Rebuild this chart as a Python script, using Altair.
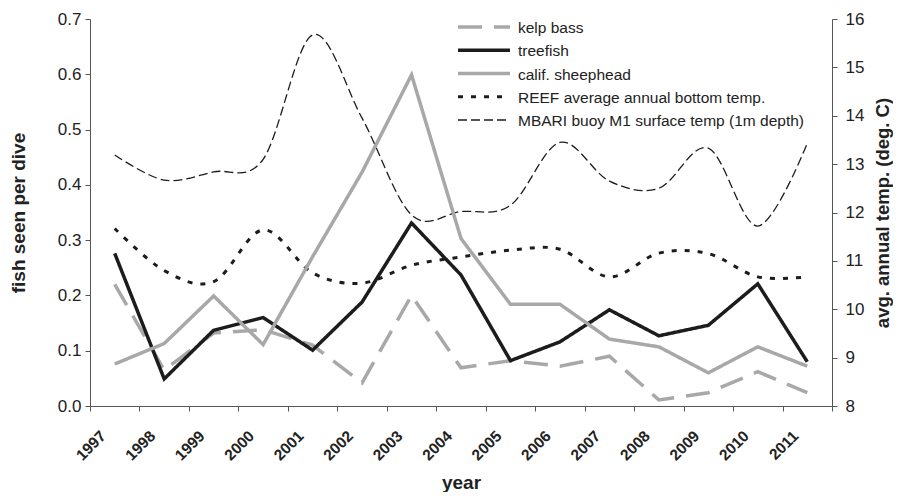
import altair as alt
import pandas as pd

years = list(range(1997, 2012))
kelp_bass = [0.220, 0.065, 0.132, 0.138, 0.110, 0.042, 0.200, 0.069, 0.082, 0.072, 0.090, 0.011, 0.024, 0.062, 0.024]
treefish = [0.276, 0.049, 0.137, 0.160, 0.101, 0.188, 0.331, 0.237, 0.082, 0.116, 0.174, 0.127, 0.146, 0.221, 0.080]
sheephead = [0.076, 0.113, 0.199, 0.111, 0.270, 0.423, 0.599, 0.303, 0.184, 0.184, 0.121, 0.107, 0.060, 0.107, 0.072]
reef_temp = [11.67, 10.80, 10.57, 11.64, 10.75, 10.54, 10.91, 11.08, 11.22, 11.24, 10.67, 11.16, 11.15, 10.67, 10.67]
mbari_temp = [13.19, 12.67, 12.84, 13.10, 15.67, 13.95, 11.95, 12.02, 12.15, 13.45, 12.65, 12.50, 13.33, 11.72, 13.43]

series_names = ["kelp bass", "treefish", "calif. sheephead",
                "REEF average annual bottom temp.",
                "MBARI buoy M1 surface temp (1m depth)"]
series_colors = ["#a8a8a8", "#1c1c1c", "#a8a8a8", "#1c1c1c", "#1c1c1c"]
series_dashes = [[24, 12], [1, 0], [1, 0], [5, 8], [9, 4]]
series_widths = [3.5, 3.5, 3.5, 3.0, 1.3]

fish_rows = []
for name, vals in zip(series_names[:3], [kelp_bass, treefish, sheephead]):
    for y, v in zip(years, vals):
        fish_rows.append({"year": y, "series": name, "value": v})
fish_df = pd.DataFrame(fish_rows)

temp_rows = []
for name, vals in zip(series_names[3:], [reef_temp, mbari_temp]):
    for y, v in zip(years, vals):
        temp_rows.append({"year": y, "series": name, "temp": v})
temp_df = pd.DataFrame(temp_rows)

legend_df = pd.DataFrame({"series": series_names})

FONT = "Liberation Sans"

x_enc = alt.X(
    "year:O",
    scale=alt.Scale(type="band", paddingInner=0, paddingOuter=0),
    axis=alt.Axis(
        title="year", tickBand="extent", labelAngle=-45, labelAlign="right",
        labelBaseline="middle", labelFontWeight="bold", labelFontSize=15.5,
        labelPadding=22, labelOffset=-12, titleFontSize=19, titleFontWeight="bold",
        titlePadding=10, grid=False, tickSize=5,
    ),
)

color_enc = alt.Color("series:N", scale=alt.Scale(domain=series_names, range=series_colors), legend=None)
dash_enc = alt.StrokeDash("series:N", scale=alt.Scale(domain=series_names, range=series_dashes), legend=None)
width_enc = alt.StrokeWidth("series:N", scale=alt.Scale(type="ordinal", domain=series_names, range=series_widths), legend=None)

temp_layer = alt.Chart(temp_df).mark_line(interpolate="cardinal", tension=0).encode(
    x=x_enc,
    y=alt.Y("temp:Q", scale=alt.Scale(domain=[8, 16], nice=False, zero=False),
            axis=alt.Axis(title="avg. annual temp. (deg. C)", orient="right",
                          values=list(range(8, 17)), grid=False, tickSize=5,
                          labelFontSize=17, labelPadding=8, titleFontSize=18.5,
                          titleFontWeight="bold", titleAngle=270, titlePadding=29)),
    color=color_enc, strokeDash=dash_enc, strokeWidth=width_enc,
)

fish_layer = alt.Chart(fish_df).mark_line(interpolate="linear").encode(
    x=x_enc,
    y=alt.Y("value:Q", scale=alt.Scale(domain=[0, 0.7], nice=False),
            axis=alt.Axis(title="fish seen per dive", orient="left",
                          values=[0, 0.1, 0.2, 0.3, 0.4, 0.5, 0.6, 0.7], format=".1f",
                          grid=False, tickSize=5, labelFontSize=17, labelPadding=4,
                          titleFontSize=19, titleFontWeight="bold", titlePadding=29)),
    color=color_enc, strokeDash=dash_enc, strokeWidth=width_enc,
)

# legend (key lines and labels), rows laid out by a point scale over the series names
legend_y = alt.Y("series:N", scale=alt.Scale(type="point", domain=series_names, range=[8, 101], padding=0), axis=None)
legend_lines = alt.Chart(legend_df).mark_rule(strokeCap="butt").encode(
    x=alt.value(368), x2=alt.value(420), y=legend_y,
    color=color_enc, strokeDash=dash_enc, strokeWidth=width_enc,
)
legend_text = alt.Chart(legend_df).mark_text(
    align="left", baseline="middle", font=FONT, fontSize=15.5, color="#222222", dy=1,
).encode(x=alt.value(428), y=legend_y, text="series:N")

chart = alt.layer(temp_layer, fish_layer, alt.layer(legend_lines, legend_text)).resolve_scale(
    y="independent"
).properties(
    width=742, height=387,
    autosize=alt.AutoSizeParams(type="none"),
    padding={"left": 82, "top": 11, "right": 61, "bottom": 86},
    background="white",
).configure_view(stroke=None).configure_axis(
    labelFont=FONT, titleFont=FONT, domainColor="#555555", tickColor="#555555",
    labelColor="#222222", titleColor="#222222",
).configure_line(strokeCap="butt")

chart.save("out.html", embed_options={"renderer": "svg", "actions": False})
